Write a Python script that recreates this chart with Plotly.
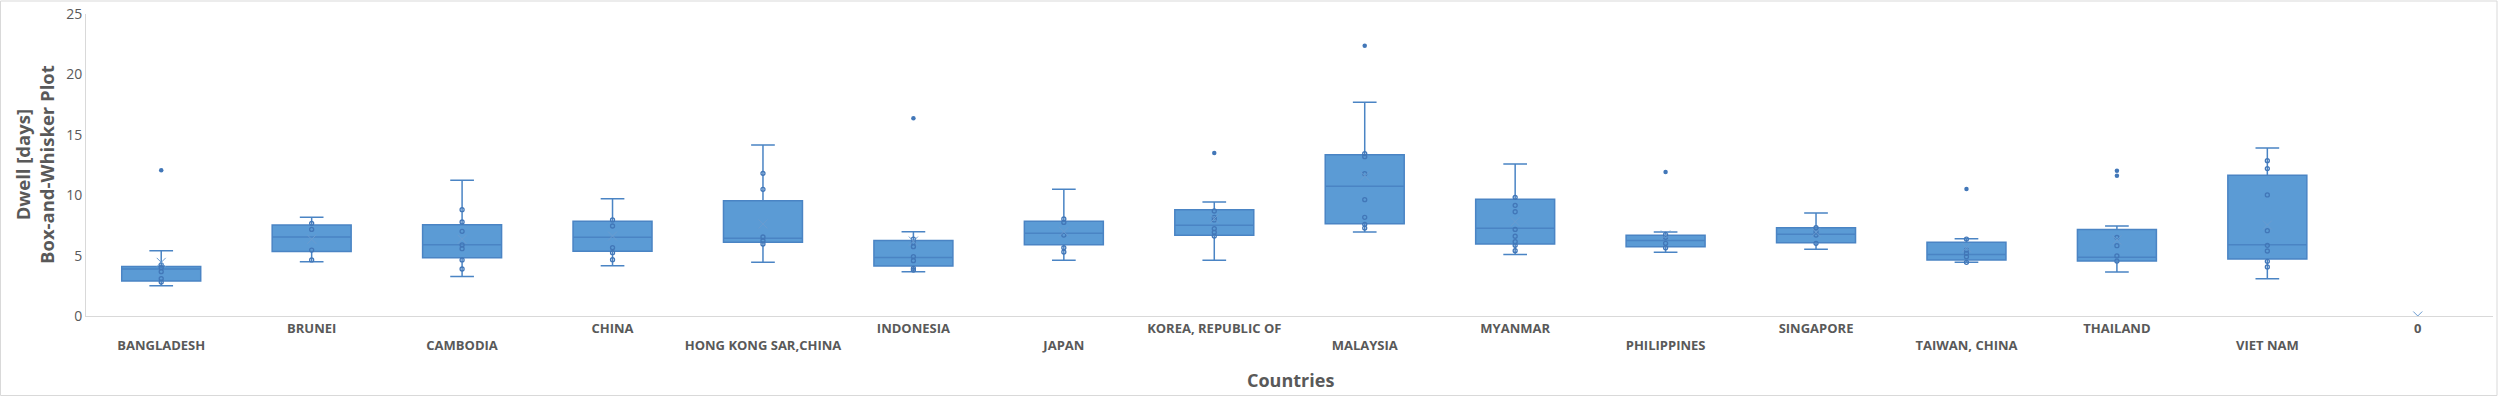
import plotly.graph_objects as go

categories = ["BANGLADESH", "BRUNEI", "CAMBODIA", "CHINA", "HONG KONG SAR,CHINA",
              "INDONESIA", "JAPAN", "KOREA, REPUBLIC OF", "MALAYSIA", "MYANMAR",
              "PHILIPPINES", "SINGAPORE", "TAIWAN, CHINA", "THAILAND", "VIET NAM"]
axis_categories = categories + ["0"]

lower_fence = [2.5, 4.5, 3.26, 4.17, 4.44, 3.67, 4.61, 4.61, 6.95, 5.1, 5.27, 5.52, 4.44, 3.64, 3.09]
q1 = [2.9, 5.33, 4.83, 5.35, 6.1, 4.14, 5.9, 6.68, 7.64, 5.96, 5.74, 6.07, 4.64, 4.55, 4.72]
median = [3.9, 6.54, 5.9, 6.51, 6.43, 4.85, 6.84, 7.52, 10.74, 7.26, 6.26, 6.76, 5.1, 4.86, 5.9]
q3 = [4.1, 7.53, 7.56, 7.84, 9.55, 6.24, 7.84, 8.8, 13.35, 9.66, 6.68, 7.31, 6.1, 7.17, 11.65]
upper_fence = [5.4, 8.17, 11.23, 9.71, 14.16, 6.97, 10.49, 9.43, 17.69, 12.58, 6.95, 8.53, 6.4, 7.45, 13.91]

mean_cat = categories + ["0"]
mean_val = [4.44, 6.35, 6.35, 6.62, 7.62, 6.2, 6.98, 8.05, 11.59, 7.81, 6.7, 6.93, 5.65, 6.29, 7.53, 0.0]

point_cat = (["BANGLADESH"] * 5 + ["BRUNEI"] * 4 + ["CAMBODIA"] * 7 + ["CHINA"] * 5 +
             ["HONG KONG SAR,CHINA"] * 5 + ["INDONESIA"] * 7 + ["JAPAN"] * 5 +
             ["KOREA, REPUBLIC OF"] * 6 + ["MALAYSIA"] * 7 + ["MYANMAR"] * 8 +
             ["PHILIPPINES"] * 4 + ["SINGAPORE"] * 4 + ["TAIWAN, CHINA"] * 5 +
             ["THAILAND"] * 4 + ["VIET NAM"] * 8)
point_val = [4.22, 4.0, 3.67, 3.09, 2.81,
             7.67, 7.17, 5.46, 4.64,
             8.8, 7.78, 7.01, 5.88, 5.57, 4.64, 3.89,
             7.95, 7.45, 5.66, 5.24, 4.66,
             11.81, 10.49, 6.54, 6.23, 5.96,
             6.37, 6.07, 5.74, 4.91, 4.58, 3.95, 3.81,
             8.03, 7.75, 6.7, 5.65, 5.3,
             8.69, 8.17, 7.95, 7.23, 6.93, 6.62,
             13.44, 13.19, 11.78, 9.63, 8.17, 7.59, 7.28,
             9.82, 9.16, 8.63, 7.17, 6.6, 6.15, 5.85, 5.41,
             6.76, 6.51, 6.02, 5.65,
             7.31, 6.98, 6.7, 6.02,
             6.37, 5.46, 5.19, 4.91, 4.44,
             6.51, 5.82, 4.97, 4.55,
             12.86, 12.2, 10.02, 7.06, 5.85, 5.38, 4.53, 4.06]

outlier_cat = ["BANGLADESH", "INDONESIA", "KOREA, REPUBLIC OF", "MALAYSIA",
               "PHILIPPINES", "TAIWAN, CHINA", "THAILAND", "THAILAND"]
outlier_val = [12.06, 16.37, 13.5, 22.38, 11.92, 10.51, 12.03, 11.62]

y_ticks = [0, 5, 10, 15, 20, 25]

BLUE = "#5B9BD5"
EDGE = "#4A84C4"
DOT = "#4277B8"
GREY_TXT = "#595959"

fig = go.Figure()
fig.add_trace(go.Box(
    x=categories, q1=q1, median=median, q3=q3,
    lowerfence=lower_fence, upperfence=upper_fence,
    fillcolor=BLUE, line=dict(color=EDGE, width=1.5),
    whiskerwidth=0.3, boxpoints=False, showlegend=False, hoverinfo="skip",
))
fig.add_trace(go.Scatter(
    x=point_cat, y=point_val, mode="markers", showlegend=False,
    marker=dict(symbol="circle-open", size=4, color=DOT, line=dict(width=1.3, color=DOT)),
))
fig.add_trace(go.Scatter(
    x=outlier_cat, y=outlier_val, mode="markers", showlegend=False,
    marker=dict(symbol="circle", size=4.5, color=DOT),
))
fig.add_trace(go.Scatter(
    x=mean_cat, y=mean_val, mode="markers", showlegend=False,
    marker=dict(symbol="x-thin-open", size=9, color="#6A9BD0", line=dict(width=1, color="#6A9BD0")),
))

tick_text = [("<br>" + c) if i % 2 == 0 else c for i, c in enumerate(axis_categories)]

W, H = 2500, 397
L, T = 86, 14
plot_bottom = 316
plot_right = 2493
R, B = W - plot_right, H - plot_bottom
pw, ph = W - L - R, H - T - B

def px_x(x):  # page pixel -> paper x
    return (x - L) / pw

def px_y(y):  # page pixel -> paper y
    return (plot_bottom - y) / ph

fig.update_layout(
    width=W, height=H,
    margin=dict(l=L, r=R, t=T, b=B, autoexpand=False),
    paper_bgcolor="white", plot_bgcolor="white",
    boxgap=0.25,
    font=dict(family="Open Sans, sans-serif", color=GREY_TXT),
    xaxis=dict(
        type="category", categoryorder="array", categoryarray=axis_categories,
        range=[-0.5, len(axis_categories) - 0.5],
        tickmode="array", tickvals=axis_categories, ticktext=tick_text,
        tickfont=dict(size=13, color=GREY_TXT, weight="bold"),
        showline=True, linecolor="#D9D9D9", linewidth=1,
        showgrid=False, ticks="", zeroline=False,
    ),
    yaxis=dict(
        range=[0, 25], tickvals=y_ticks, ticks="",
        tickfont=dict(size=14, color=GREY_TXT),
        ticklabeloverflow="allow",
        showline=True, linecolor="#D9D9D9", linewidth=1,
        showgrid=False, zeroline=False,
    ),
    annotations=[
        dict(text="Dwell [days]<br>Box-and-Whisker Plot", textangle=-90,
             xref="paper", yref="paper", x=px_x(34), y=px_y(165),
             xanchor="center", yanchor="middle", showarrow=False,
             font=dict(size=18.5, color=GREY_TXT, weight="bold")),
        dict(text="Countries", xref="paper", yref="paper",
             x=px_x(1290), y=px_y(380), xanchor="center", yanchor="middle",
             showarrow=False, font=dict(size=18, color=GREY_TXT, weight="bold")),
    ],
    shapes=[dict(type="rect", xref="paper", yref="paper",
                 x0=px_x(0.5), x1=px_x(2497),
                 y0=px_y(395.5), y1=px_y(1),
                 line=dict(color="#D9D9D9", width=1), layer="below")],
)

fig.write_html("out.html",
               config={"displayModeBar": False},
               post_script="document.body.style.margin='0';document.body.style.overflow='hidden';")
